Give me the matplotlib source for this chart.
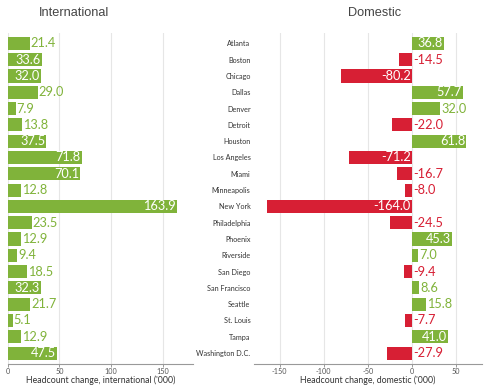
import numpy as np
import matplotlib
matplotlib.use("Agg")
import matplotlib.pyplot as plt

plt.rcParams.update({
    "font.family": ["Lato", "DejaVu Sans"],
    "axes.linewidth": 0.8,
})

cities = ["Atlanta", "Boston", "Chicago", "Dallas", "Denver", "Detroit", "Houston",
          "Los Angeles", "Miami", "Minneapolis", "New York", "Philadelphia", "Phoenix",
          "Riverside", "San Diego", "San Francisco", "Seattle", "St. Louis", "Tampa",
          "Washington D.C."]
international = [21.4, 33.6, 32.0, 29.0, 7.9, 13.8, 37.5, 71.8, 70.1, 12.8, 163.9,
                 23.5, 12.9, 9.4, 18.5, 32.3, 21.7, 5.1, 12.9, 47.5]
domestic = [36.8, -14.5, -80.2, 57.7, 32.0, -22.0, 61.8, -71.2, -16.7, -8.0, -164.0,
            -24.5, 45.3, 7.0, -9.4, 8.6, 15.8, -7.7, 41.0, -27.9]

GREEN = "#80b33a"
RED = "#d71f34"
GRID = "#e6e6e6"

fig = plt.figure(figsize=(4.88, 3.87), dpi=100)
W, H = 488, 387

def px_axes(x0, x1, y0, y1):
    return fig.add_axes([x0 / W, 1 - y1 / H, (x1 - x0) / W, (y1 - y0) / H])

ax1 = px_axes(7.5, 193, 33.3, 364)
ax2 = px_axes(254, 481.5, 33.3, 364)

y = np.arange(len(cities))

def panel(ax, vals, xlim, ticks, xlabel, min_px):
    colors = [GREEN if v >= 0 else RED for v in vals]
    ax.barh(y, vals, height=0.8, color=colors, zorder=2)
    ax.set_xlim(*xlim)
    ax.set_ylim(19.67, -0.62)
    ax.set_xticks(ticks)
    ax.set_xticklabels([str(t) for t in ticks])
    ax.grid(axis="x", color=GRID, lw=0.8, zorder=0)
    for s in ["top", "right", "left"]:
        ax.spines[s].set_visible(False)
    ax.spines["bottom"].set_color("#999999")
    ax.tick_params(axis="x", length=2.5, width=0.7, color="#999999",
                   labelsize=5.2, labelcolor="#555555", pad=0.5)
    ax.tick_params(axis="y", length=0)
    ax.set_xlabel(xlabel, fontsize=6.3, color="#333333", labelpad=0)
    # pixels per data unit
    ppu = ax.get_position().width * W / (xlim[1] - xlim[0])
    for yi, v, c in zip(y, vals, colors):
        x = max(v, 0)
        txt = f"{v:.1f}"
        inside = abs(v) * ppu > min_px
        if v >= 0:
            if inside:
                ax.text(x - 1.2 / ppu, yi, txt, ha="right", va="center",
                        color="white", fontsize=9.2, zorder=3)
            else:
                ax.text(x + 1.0 / ppu, yi, txt, ha="left", va="center",
                        color=c, fontsize=9.2, zorder=3)
        else:
            if inside:
                ax.text(-1.2 / ppu, yi, txt, ha="right", va="center",
                        color="white", fontsize=9.2, zorder=3)
            else:
                ax.text(1.0 / ppu, yi, txt, ha="left", va="center",
                        color=c, fontsize=9.2, zorder=3)

panel(ax1, international, (0, 179), [0, 50, 100, 150],
      "Headcount change, international ('000)", 31)
ax1.set_yticks([])

panel(ax2, domestic, (-179, 79), [-150, -100, -50, 0, 50],
      "Headcount change, domestic ('000)", 31)
ax2.set_yticks(y)
ax2.set_yticklabels(cities, fontsize=5.2, color="#333333")
ax2.tick_params(axis="y", pad=2.5)

fig.text(74.5 / W, 1 - 12.5 / H, "International", ha="center", va="center",
         fontsize=9.2, color="#444444", family="Liberation Sans")
fig.text(375 / W, 1 - 12.5 / H, "Domestic", ha="center", va="center",
         fontsize=9.2, color="#444444", family="Liberation Sans")

fig.savefig("out.png", dpi=100)
